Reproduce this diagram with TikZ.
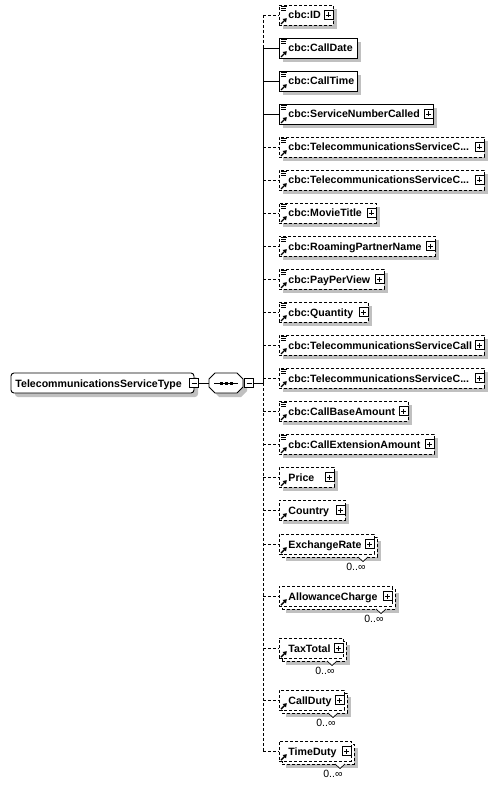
\documentclass[tikz,border=0pt]{standalone}
\usepackage{fontspec}
\setmainfont{Liberation Sans}
\usetikzlibrary{arrows.meta}
\definecolor{shadowgray}{RGB}{192,192,192}
\newcommand{\mydots}{...}
\begin{document}
\begin{tikzpicture}[x=1pt,y=-1pt,line width=0.9pt,
  optline/.style={dash pattern=on 3pt off 2pt},
  ebox/.style={draw, fill=white, inner sep=0pt, minimum height=20pt},
  pmbox/.style={draw, fill=white, inner sep=0pt, minimum size=9pt, line width=0.8pt},
  lbl/.style={font=\fontsize{10.6}{12}\selectfont\bfseries, inner sep=0pt, anchor=base west},
  mult/.style={font=\fontsize{10.5}{12}\selectfont, inner sep=0pt, anchor=east},
  refarrow/.style={line width=1.4pt,-{Triangle[length=3.6pt,width=4.6pt]}},
]
\useasboundingbox (0,0) rectangle (495,786);

% spine
\coordinate (sTop) at (263,15);
\coordinate (sMand) at (263,48);
\coordinate (sJoin) at (263,383);
\coordinate (sBot) at (263,751);
\draw[optline] (sTop) -- (sMand);
\draw (sMand) -- (sJoin);
\draw[optline] (sJoin) -- (sBot);

% root
\fill[shadowgray, rounded corners=3pt] (15,377) rectangle (198,397);
\node[draw, fill=white, rounded corners=3pt, minimum width=183pt, minimum height=20pt, inner sep=0pt] (root) at (102.5,383) {};
\node[lbl] (roottxt) at (15,387.5) {TelecommunicationsServiceType};
\node[pmbox] (rootm) at (194,383) {};
\draw[line width=0.8pt] ([xshift=-2.5pt]rootm.center) -- ([xshift=2.5pt]rootm.center);

% compositor
\fill[shadowgray] (213,383) -- (219,377) -- (241,377) -- (247,383) -- (247,391) -- (241,397) -- (219,397) -- (213,391) -- cycle;
\draw[fill=white] (209,379) -- (215,373) -- (237,373) -- (243,379) -- (243,387) -- (237,393) -- (215,393) -- (209,387) -- cycle;
\node[inner sep=0pt, minimum width=34pt, minimum height=20pt] (seq) at (226,383) {};
\draw (214,383) -- (238,383);
\foreach \dx in {221,226,231} \fill (\dx-1.5,381.5) rectangle (\dx+1.5,384.5);
\node[pmbox] (seqm) at (249,383) {};
\draw[line width=0.8pt] ([xshift=-2.5pt]seqm.center) -- ([xshift=2.5pt]seqm.center);
\draw (rootm.east) -- (seq.west);
\draw (seqm.east) -- (sJoin);

% single elements
\foreach \n/\y/\rr/\tx/\st/\ic/\pl in {
 1/15/333/cbc:ID/optline/1/1,
 2/48/357/cbc:CallDate/solid/1/0,
 3/81/357/cbc:CallTime/solid/1/0,
 4/114/433/cbc:ServiceNumberCalled/solid/1/1,
 5/147/484/cbc:TelecommunicationsServiceC\mydots/optline/1/1,
 6/180/484/cbc:TelecommunicationsServiceC\mydots/optline/1/1,
 7/213/376/cbc:MovieTitle/optline/1/1,
 8/246/435/cbc:RoamingPartnerName/optline/1/1,
 9/279/384/cbc:PayPerView/optline/1/1,
 10/312/368/cbc:Quantity/optline/1/1,
 11/345/484/cbc:TelecommunicationsServiceCall/optline/1/1,
 12/378/484/cbc:TelecommunicationsServiceC\mydots/optline/1/1,
 13/411/408/cbc:CallBaseAmount/optline/1/1,
 14/444/434/cbc:CallExtensionAmount/optline/1/1,
 15/477/334/Price/optline/0/1,
 16/510/345/Country/optline/0/1}{
  \pgfmathsetmacro\w{\rr-279}
  \pgfmathsetmacro\cx{(\rr+279)/2}
  \fill[shadowgray] (283,\y-6) rectangle (\rr+4,\y+14);
  \node[ebox,\st,minimum width=\w] (e\n) at (\cx,\y) {};
  \coordinate (s\n) at (263,\y);
  \draw[\st] (s\n) -- (e\n.west);
  \ifnum\ic=1 \draw[line width=0.8pt] (281,\y-9) -- (287,\y-9) (281,\y-7) -- (286,\y-7) (281,\y-5) -- (286,\y-5); \fi
  \draw[refarrow] (281,\y+9) -- (286.8,\y+3.2);
  \node[lbl] (t\n) at (288,\y+4) {\tx};
  \ifnum\pl=1
    \node[pmbox] (p\n) at (\rr-4.5,\y) {};
    \draw[line width=0.8pt] ([xshift=-2.5pt]p\n.center) -- ([xshift=2.5pt]p\n.center) ([yshift=-2.5pt]p\n.center) -- ([yshift=2.5pt]p\n.center);
  \fi
}

% repeated elements
\foreach \n/\y/\rr/\tx in {
 17/544/374/ExchangeRate,
 18/596/392/AllowanceCharge,
 19/648/343/TaxTotal,
 20/700/344/CallDuty,
 21/751/351/TimeDuty}{
  \pgfmathsetmacro\w{\rr-279}
  \pgfmathsetmacro\cx{(\rr+279)/2}
  \fill[shadowgray] (286,\y-3) rectangle (\rr+7,\y+17);
  \node[ebox,optline,minimum width=\w] (b\n) at (\cx+3,\y+3) {};
  \node[ebox,optline,minimum width=\w] (e\n) at (\cx,\y) {};
  \draw[fill=white,line width=0.7pt] (\rr-16,\y+13) -- (\rr-11,\y+17.5) -- (\rr-6,\y+13);
  \coordinate (s\n) at (263,\y);
  \draw[optline] (s\n) -- (e\n.west);
  \draw[refarrow] (281,\y+9) -- (286.8,\y+3.2);
  \node[lbl] (t\n) at (288,\y+4) {\tx};
  \node[pmbox] (p\n) at (\rr-4.5,\y) {};
  \draw[line width=0.8pt] ([xshift=-2.5pt]p\n.center) -- ([xshift=2.5pt]p\n.center) ([yshift=-2.5pt]p\n.center) -- ([yshift=2.5pt]p\n.center);
  \node[mult] (m\n) at (\rr-8,\y+23) {0..∞};
}
\end{tikzpicture}
\end{document}
